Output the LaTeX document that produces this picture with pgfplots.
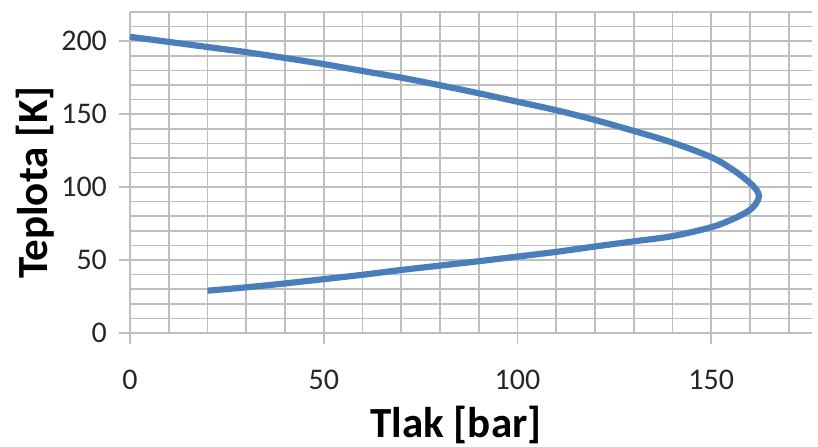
\documentclass[border=0pt]{standalone}
\usepackage{pgfplots}
\pgfplotsset{compat=1.18}
\usetikzlibrary{calc}
\usepackage{fontspec}
\setmainfont{Carlito}
\definecolor{linec}{RGB}{74,126,187}
\definecolor{gridc}{RGB}{190,190,190}
\begin{document}
\begin{tikzpicture}
\begin{axis}[
  name=ax,
  scale only axis,
  width=341pt, height=160.5pt,
  xmin=0, xmax=176, ymin=0, ymax=220,
  axis x line*=bottom, axis y line*=left,
  axis line style={gridc, line width=0.9pt, -},
  xtick={0,50,100,150}, ytick={0,50,100,150,200},
  minor xtick={10,20,30,40,60,70,80,90,110,120,130,140,160,170},
  minor ytick={10,20,30,40,60,70,80,90,110,120,130,140,160,170,180,190,210,220},
  grid=both,
  major grid style={gridc, line width=0.8pt},
  minor grid style={gridc, line width=0.8pt},
  tick style={gridc, line width=0.9pt},
  tick align=outside,
  major tick length=5.5pt,
  minor tick length=0pt,
  tick label style={font=\fontsize{15}{15}\selectfont, text=black!85},
  /pgf/number format/assume math mode=true,
  xticklabel style={yshift=-9.5pt},
  yticklabel style={xshift=-2.5pt},
  xlabel={\textbf{Tlak [bar]}},
  ylabel={\textbf{Teplota [K]}},
  label style={font=\fontsize{21.5}{21.5}\selectfont},
  xlabel style={yshift=-1.5pt, xshift=-7.5pt},
  ylabel style={yshift=-3.5pt, xshift=-5pt},
  clip=false,
]
\addplot[linec, line width=3.1pt, smooth, tension=0.55] coordinates {
(0,203) (10,199.5) (20,196) (30,192.5) (40,188.5) (50,184.3) (60,179.6) (70,175) (80,169.8) (90,164.3) (100,158.5) (110,152.7) (120,146) (130,138.5) (140,130.5) (150,120.5) (155.5,112) (159.5,104) (161.7,98) (162.3,93.5) (161.5,88.5) (159.5,83.5) (155.5,78) (150,72.5) (140,66.4) (130,62.8) (120,59.3) (110,55.6) (100,52.4) (90,49.2) (80,46.2) (70,43.2) (60,39.9) (50,36.9) (40,34) (30,31.3) (20,29)
};
\end{axis}
\pgfresetboundingbox
\path[use as bounding box] ($(ax.south west)+(-65pt,-56.5pt)$) rectangle ($(ax.north east)+(3pt,6pt)$);
\end{tikzpicture}
\end{document}
